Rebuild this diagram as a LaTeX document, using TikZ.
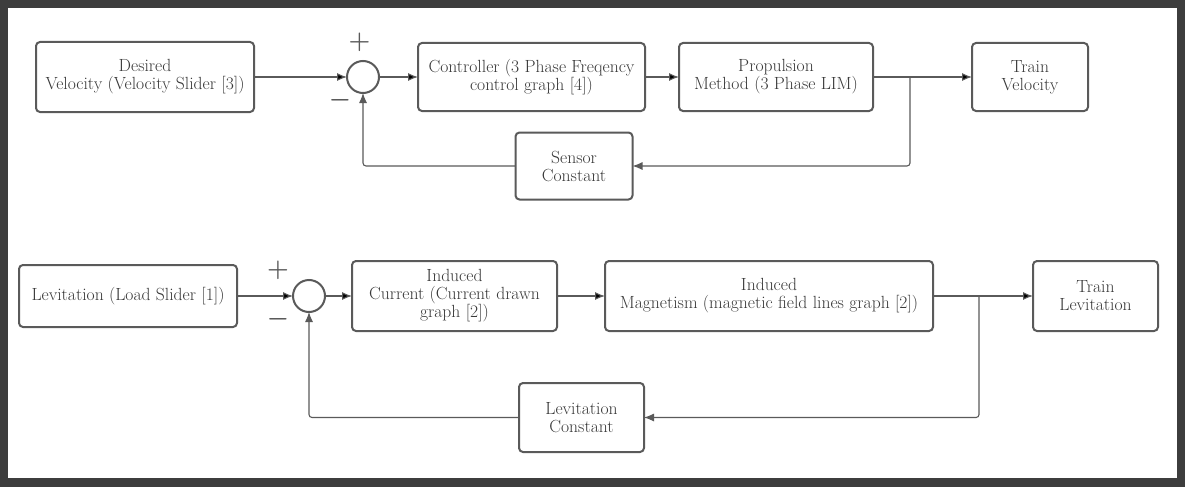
\documentclass[tikz,border=0pt]{standalone}
\usepackage{amsmath}
\usepackage{tikz}
\usetikzlibrary{arrows.meta,positioning,calc}
\definecolor{framegray}{HTML}{3D3D3D}
\definecolor{linegray}{HTML}{5A5A5A}
\definecolor{textgray}{HTML}{383838}

\begin{document}
\begin{tikzpicture}
[x=1pt,y=-1pt,>={Latex[length=10pt,width=8pt]},
block/.style =
{draw=linegray, line width=2pt, rounded corners=4pt, align=center, outer sep=0pt,
 text=textgray, font=\fontsize{17.6}{18}\selectfont, inner sep=2pt},
sum/.style =
{draw=linegray, line width=2pt, shape=circle, minimum size=32pt, inner sep=0pt,
 outer sep=0pt},
sign/.style =
{text=linegray, inner sep=0pt, font=\fontsize{36}{36}\selectfont\boldmath},
link/.style = {draw=linegray, line width=1.1pt, ->, rounded corners=3pt}]
% frame
\fill[framegray] (0,0) rectangle (1185,487);
\fill[white] (8,8) rectangle (1177,478);

% velocity loop
\node [block, minimum width=218pt, minimum height=70pt] (desired) at (145,77)
  {Desired\\Velocity (Velocity Slider [3])};
\node [sum, right=93pt of desired] (sum1) {};
\node [block, minimum width=227pt, minimum height=68pt, right=39pt of sum1] (ctrl)
  {Controller (3 Phase Freqency\\control graph [4])};
\node [block, minimum width=194pt, minimum height=68pt, right=34pt of ctrl] (prop)
  {Propulsion\\Method (3 Phase LIM)};
\node [block, minimum width=116pt, minimum height=68pt, right=99pt of prop] (trainv)
  {Train\\Velocity};
\node [block, minimum width=117pt, minimum height=67pt] (sensor) at (574,166)
  {Sensor\\Constant};
\node [sign] (plus1) at ($(sum1)+(-3.5,-34.5)$) {$+$};
\node [sign] (minus1) at ($(sum1)+(-23,23.5)$) {$-$};
\coordinate (tap1) at ($(prop.east)+(37,0)$);

\path[link] (desired) edge (sum1) (sum1) edge (ctrl) (ctrl) edge (prop)
  (prop) edge (trainv);
\draw[link] (tap1) |- (sensor);
\draw[link] (sensor) -| (sum1);

% levitation loop
\node [block, minimum width=218pt, minimum height=62pt] (levin) at (128,296)
  {Levitation (Load Slider [1])};
\node [sum, right=56pt of levin] (sum2) {};
\node [block, minimum width=205pt, minimum height=70pt, right=27pt of sum2] (indcur)
  {Induced\\Current (Current drawn\\graph [2])};
\node [block, minimum width=328pt, minimum height=70pt, right=48pt of indcur] (indmag)
  {Induced\\Magnetism (magnetic field lines graph [2])};
\node [block, minimum width=125pt, minimum height=70pt, right=100pt of indmag] (trainlev)
  {Train\\Levitation};
\node [block, minimum width=125pt, minimum height=69pt] (levconst) at (581.5,417.5)
  {Levitation\\Constant};
\node [sign] (plus2) at ($(sum2)+(-31,-26)$) {$+$};
\node [sign] (minus2) at ($(sum2)+(-31,23)$) {$-$};
\coordinate (tap2) at ($(indmag.east)+(46,0)$);

\path[link] (levin) edge (sum2) (sum2) edge (indcur) (indcur) edge (indmag)
  (indmag) edge (trainlev);
\draw[link] (tap2) |- (levconst);
\draw[link] (levconst) -| (sum2);

\end{tikzpicture}
\end{document}
